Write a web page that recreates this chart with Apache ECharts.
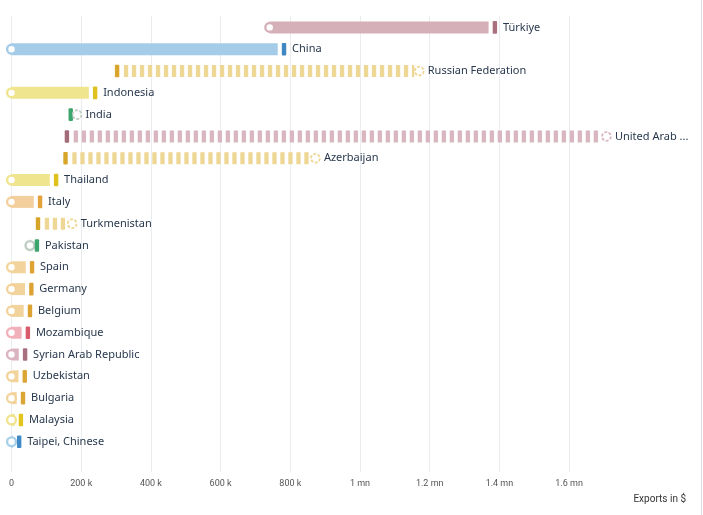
<!DOCTYPE html>
<html>
<head>
<meta charset="utf-8">
<script src="https://cdn.jsdelivr.net/npm/echarts@6/dist/echarts.min.js"></script>
<style>
  html, body { margin: 0; padding: 0; background: #fff; }
  #chart { width: 703px; height: 515px; }
</style>
</head>
<body>
<div id="chart"></div>
<script>
// rows top to bottom
const countries = [
  'Türkiye', 'China', 'Russian Federation', 'Indonesia', 'India',
  'United Arab Emirates', 'Azerbaijan', 'Thailand', 'Italy', 'Turkmenistan',
  'Pakistan', 'Spain', 'Germany', 'Belgium', 'Mozambique',
  'Syrian Arab Republic', 'Uzbekistan', 'Bulgaria', 'Malaysia', 'Taipei, Chinese'
]
// circle = earlier value, tick = latest value (in $)
const previousExports = [
  741000, 0, 1170000, 0, 188000,
  1707000, 872000, 0, 0, 174000,
  53000, 0, 0, 0, 0,
  0, 0, 0, 0, 0
]
const latestExports = [
  1387000, 782000, 303000, 240000, 170000,
  159000, 155000, 128000, 82000, 76000,
  73000, 59000, 57000, 53000, 47000,
  39000, 38000, 33000, 27000, 22000
]
const tickStep = 200000

// [bar colour, tick colour] per row
const rowColors = [
  ['#d5b0b9', '#a9707d'], ['#a4cbe7', '#3f87c2'], ['#eed794', '#d8a52a'],
  ['#efe58f', '#e0c21e'], ['#bfccc3', '#3ca56b'], ['#dab7c0', '#a46b79'],
  ['#eed794', '#d6a52a'], ['#efe58f', '#dfc21d'], ['#f2cf9c', '#e3a23c'],
  ['#eed794', '#d6a52a'], ['#bfccc3', '#3ca56b'], ['#f2d39c', '#dea333'],
  ['#f2d39c', '#dca334'], ['#f2d39c', '#dca334'], ['#f2b0bb', '#d95c6d'],
  ['#dab4c0', '#a8707e'], ['#f2d39c', '#dca634'], ['#f2d39c', '#dca634'],
  ['#f0e48e', '#e2c51e'], ['#a9d0ea', '#3f8ac6']
]

const rows = countries.map((name, i) => [i, previousExports[i], latestExports[i], name])

const chart = echarts.init(document.getElementById('chart'))

function formatTick(v) {
  if (v === 0) return '0'
  if (v >= 1000000) return (v / 1000000) + ' mn'
  return (v / 1000) + ' k'
}

function renderRow(params, api) {
  const idx = api.value(0)
  const from = api.value(1)
  const to = api.value(2)
  const name = countries[idx]
  const p0 = api.coord([from, idx])
  const p1 = api.coord([to, idx])
  const y = p0[1] + 0.5
  const light = rowColors[idx][0]
  const dark = rowColors[idx][1]
  const h = 12
  const children = []
  let labelX

  const tick = {
    type: 'rect',
    shape: { x: p1[0] - 2.2, y: y - 6.3, width: 4.4, height: 12.6, r: 1 },
    style: { fill: dark }
  }

  if (to >= from) {
    const barEnd = p1[0] - 6.3
    if (barEnd > p0[0]) {
      children.push({
        type: 'rect',
        shape: { x: p0[0], y: y - h / 2, width: barEnd - p0[0], height: h },
        style: { fill: light }
      })
    }
    children.push({
      type: 'circle',
      shape: { cx: p0[0], cy: y, r: 4.4 },
      style: { fill: '#fff', stroke: light, lineWidth: 2.4 }
    })
    children.push(tick)
    labelX = p1[0] + 8
  } else {
    const dashStart = p1[0] + 6.8
    const dashEnd = p0[0] - 5
    if (dashEnd > dashStart) {
      children.push({
        type: 'line',
        shape: { x1: dashStart, y1: y, x2: dashEnd, y2: y },
        style: { stroke: light, lineWidth: h, lineDash: [4.3, 3.7], lineCap: 'butt' }
      })
    }
    children.push(tick)
    children.push({
      type: 'circle',
      shape: { cx: p0[0], cy: y, r: 4.4 },
      style: { fill: '#fff', stroke: light, lineWidth: 1.8, lineDash: [3, 1.5] }
    })
    labelX = p0[0] + 8.5
  }

  children.push({
    type: 'text',
    x: labelX,
    y: y,
    style: {
      text: name,
      fill: '#28384d',
      font: '11px "Noto Sans"',
      verticalAlign: 'middle',
      width: 692 - labelX,
      overflow: 'truncate',
      ellipsis: ' ...'
    }
  })

  return { type: 'group', children }
}

chart.setOption({
  animation: false,
  grid: { left: 11.5, right: 81.6, top: 16, bottom: 43 },
  xAxis: {
    type: 'value',
    min: 0,
    max: 1750000,
    interval: tickStep,
    axisLine: { show: false },
    axisTick: { show: false },
    splitLine: { show: true, showMaxLine: false, lineStyle: { color: '#eaedf0', width: 1 } },
    axisLabel: {
      showMaxLabel: false,
      formatter: formatTick,
      color: '#555',
      fontSize: 9,
      fontFamily: 'Roboto',
      margin: 7
    }
  },
  yAxis: {
    type: 'value',
    inverse: true,
    min: -0.5,
    max: 20.41,
    show: false
  },
  graphic: [
    {
      type: 'text',
      right: 17,
      top: 494,
      style: { text: 'Exports in $', fill: '#333', font: '10px Roboto' }
    },
    {
      type: 'line',
      shape: { x1: 701.5, y1: 0, x2: 701.5, y2: 515 },
      style: { stroke: '#d9dee6', lineWidth: 1 }
    }
  ],
  series: [
    {
      type: 'custom',
      renderItem: renderRow,
      encode: { x: [1, 2], y: 0 },
      data: rows,
      clip: false
    }
  ]
})
</script>
</body>
</html>
